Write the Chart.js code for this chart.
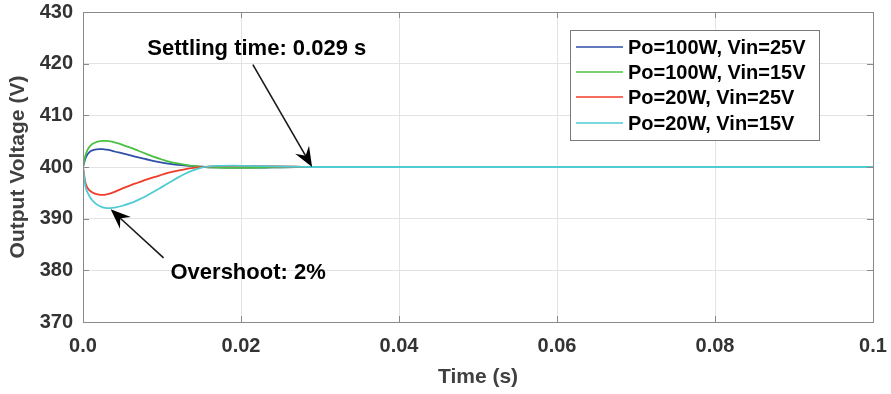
<!DOCTYPE html>
<html>
<head>
<meta charset="utf-8">
<script src="https://cdn.jsdelivr.net/npm/chart.js@4.4.1/dist/chart.umd.min.js"></script>
<style>
  html, body { margin: 0; padding: 0; background: #ffffff; }
  #wrap { width: 891px; height: 394px; }
</style>
</head>
<body>
<div id="wrap"><canvas id="c" width="891" height="394"></canvas></div>
<script>
// ---- Data ----
const time = [0, 0.0003, 0.0006, 0.001, 0.0015, 0.002, 0.0025, 0.003, 0.0035, 0.004, 0.005, 0.006, 0.007, 0.008, 0.009, 0.010, 0.011, 0.012, 0.013, 0.014, 0.015, 0.017, 0.019, 0.021, 0.023, 0.025, 0.027, 0.029, 0.035, 0.05, 0.1];
const po100vin25 = [400, 401.6, 402.5, 403.1, 403.35, 403.45, 403.45, 403.35, 403.2, 403.0, 402.65, 402.25, 401.85, 401.5, 401.15, 400.85, 400.6, 400.42, 400.28, 400.16, 400.05, 399.92, 399.88, 399.88, 399.9, 399.95, 399.98, 400, 400, 400, 400];
const po100vin15 = [400, 402.2, 403.4, 404.25, 404.7, 404.95, 405.05, 405.05, 404.95, 404.75, 404.3, 403.75, 403.15, 402.55, 401.95, 401.45, 401.0, 400.68, 400.42, 400.2, 400.05, 399.9, 399.85, 399.85, 399.9, 399.95, 399.98, 400, 400, 400, 400];
const po20vin25 = [400, 397.0, 395.9, 395.25, 394.85, 394.65, 394.6, 394.7, 394.9, 395.2, 395.85, 396.45, 397.0, 397.55, 398.05, 398.5, 398.95, 399.3, 399.6, 399.82, 399.98, 400.15, 400.2, 400.2, 400.15, 400.1, 400.05, 400, 400, 400, 400];
const po20vin15 = [400, 396.3, 395.0, 393.9, 393.05, 392.5, 392.2, 392.05, 392.05, 392.15, 392.5, 393.0, 393.65, 394.4, 395.25, 396.15, 397.05, 397.95, 398.75, 399.4, 399.88, 400.2, 400.25, 400.2, 400.15, 400.1, 400.05, 400, 400, 400, 400];
const seriesLabels = ["Po=100W, Vin=25V", "Po=100W, Vin=15V", "Po=20W, Vin=25V", "Po=20W, Vin=15V"];
const xTicks = [0, 0.02, 0.04, 0.06, 0.08, 0.1];
const xTickLabels = ["0.0", "0.02", "0.04", "0.06", "0.08", "0.1"];
const yTicks = [370, 380, 390, 400, 410, 420, 430];
// annotations: [text, textX, textY, arrowTailX, arrowTailY, arrowTipX, arrowTipY] in data units
const settlingNote = ["Settling time: 0.029 s", 0.0220, 422.8, 0.0215, 419.8, 0.0290, 400.0];
const overshootNote = ["Overshoot: 2%", 0.0209, 379.4, 0.0102, 382.4, 0.0035, 391.8];

const colors = ["#2f4fa8", "#4cbf44", "#f03c2a", "#4fcbd3"];
const FONT = "'Liberation Sans', Arial, Helvetica, sans-serif";

function pts(ys) { return time.map((t, i) => ({ x: t, y: ys[i] })); }
const allSeries = [po100vin25, po100vin15, po20vin25, po20vin15];

const datasets = allSeries.map((s, i) => ({
  label: seriesLabels[i],
  data: pts(s),
  borderColor: colors[i],
  backgroundColor: colors[i],
  borderWidth: 1.8,
  pointRadius: 0,
  fill: false,
  cubicInterpolationMode: 'monotone',
  order: 3 - i
}));

const framePlugin = {
  id: 'frame',
  afterDatasetsDraw(chart) {
    const ctx = chart.ctx;
    const a = chart.chartArea;
    const xs = chart.scales.x, ys = chart.scales.y;
    ctx.save();
    // box
    ctx.strokeStyle = '#8a8a8a';
    ctx.lineWidth = 1;
    ctx.strokeRect(Math.round(a.left) + 0.5, Math.round(a.top) + 0.5, Math.round(a.right - a.left), Math.round(a.bottom - a.top));
    // inward ticks
    ctx.beginPath();
    xTicks.forEach(v => {
      const px = Math.round(xs.getPixelForValue(v)) + 0.5;
      ctx.moveTo(px, a.bottom); ctx.lineTo(px, a.bottom - 6);
      ctx.moveTo(px, a.top); ctx.lineTo(px, a.top + 6);
    });
    yTicks.forEach(v => {
      const py = Math.round(ys.getPixelForValue(v)) + 0.5;
      ctx.moveTo(a.left, py); ctx.lineTo(a.left + 6, py);
      ctx.moveTo(a.right, py); ctx.lineTo(a.right - 6, py);
    });
    ctx.stroke();

    // annotations
    function arrow(x0, y0, x1, y1) {
      const p0 = [xs.getPixelForValue(x0), ys.getPixelForValue(y0)];
      const p1 = [xs.getPixelForValue(x1), ys.getPixelForValue(y1)];
      const ang = Math.atan2(p1[1] - p0[1], p1[0] - p0[0]);
      const L = 20, W = 8;
      ctx.strokeStyle = '#1a1a1a';
      ctx.fillStyle = '#000000';
      ctx.lineWidth = 1.6;
      ctx.beginPath();
      ctx.moveTo(p0[0], p0[1]);
      ctx.lineTo(p1[0] - Math.cos(ang) * L * 0.6, p1[1] - Math.sin(ang) * L * 0.6);
      ctx.stroke();
      const bx = p1[0] - Math.cos(ang) * L, by = p1[1] - Math.sin(ang) * L;
      const nx = -Math.sin(ang), ny = Math.cos(ang);
      const mx = p1[0] - Math.cos(ang) * L * 0.65, my = p1[1] - Math.sin(ang) * L * 0.65;
      ctx.beginPath();
      ctx.moveTo(p1[0], p1[1]);
      ctx.lineTo(bx + nx * W, by + ny * W);
      ctx.lineTo(mx, my);
      ctx.lineTo(bx - nx * W, by - ny * W);
      ctx.closePath();
      ctx.fill();
    }
    [settlingNote, overshootNote].forEach(n => {
      arrow(n[3], n[4], n[5], n[6]);
      ctx.fillStyle = '#000000';
      ctx.font = 'bold 22px ' + FONT;
      ctx.textAlign = 'center';
      ctx.textBaseline = 'middle';
      ctx.fillText(n[0], xs.getPixelForValue(n[1]), ys.getPixelForValue(n[2]));
    });

    // legend box
    const lx = 570, ly = 30, lw = 249, lh = 110;
    ctx.fillStyle = '#ffffff';
    ctx.fillRect(lx, ly, lw, lh);
    ctx.strokeStyle = '#7a7a7a';
    ctx.lineWidth = 1;
    ctx.strokeRect(lx + 0.5, ly + 0.5, lw, lh);
    const rows = [47, 72, 97, 123];
    ctx.font = 'bold 20px ' + FONT;
    ctx.textAlign = 'left';
    ctx.textBaseline = 'middle';
    seriesLabels.forEach((lab, i) => {
      ctx.strokeStyle = colors[i];
      ctx.lineWidth = 1.5;
      ctx.beginPath();
      ctx.moveTo(576, rows[i]);
      ctx.lineTo(623, rows[i]);
      ctx.stroke();
      ctx.fillStyle = '#000000';
      ctx.fillText(lab, 628, rows[i] + 1);
    });
    ctx.restore();
  }
};

new Chart(document.getElementById('c'), {
  type: 'line',
  data: { datasets },
  options: {
    responsive: false,
    animation: false,
    devicePixelRatio: 1,
    layout: { padding: { left: 0, top: 12, right: 18, bottom: 0 } },
    plugins: { legend: { display: false }, tooltip: { enabled: false } },
    scales: {
      x: {
        type: 'linear',
        min: 0, max: 0.1,
        afterFit(scale) { scale.height = 72; scale.paddingLeft = 0; scale.paddingRight = 0; },
        afterBuildTicks(scale) { scale.ticks = xTicks.map(v => ({ value: v })); },
        ticks: {
          padding: 12,
          maxRotation: 0,
          autoSkip: false,
          color: '#333333',
          font: { family: FONT, size: 20, weight: 'bold' },
          callback: (v) => { const i = xTicks.findIndex(t => Math.abs(t - v) < 1e-9); return i >= 0 ? xTickLabels[i] : ''; }
        },
        grid: { color: '#e3e3e3', drawTicks: false, lineWidth: 1 },
        border: { display: false },
        title: {
          display: true, text: 'Time (s)', color: '#404040',
          font: { family: FONT, size: 21, weight: 'bold' },
          padding: { top: 0, bottom: 4 }
        }
      },
      y: {
        type: 'linear',
        min: 370, max: 430,
        afterFit(scale) { scale.width = 83; scale.paddingTop = 0; scale.paddingBottom = 0; },
        afterBuildTicks(scale) { scale.ticks = yTicks.map(v => ({ value: v })); },
        ticks: {
          padding: 10,
          color: '#333333',
          font: { family: FONT, size: 20, weight: 'bold' }
        },
        grid: { color: '#e3e3e3', drawTicks: false, lineWidth: 1 },
        border: { display: false },
        title: {
          display: true, text: 'Output Voltage (V)', color: '#404040',
          font: { family: FONT, size: 21, weight: 'bold' },
          padding: { top: 6, bottom: 0 }
        }
      }
    }
  },
  plugins: [framePlugin]
});
</script>
</body>
</html>
